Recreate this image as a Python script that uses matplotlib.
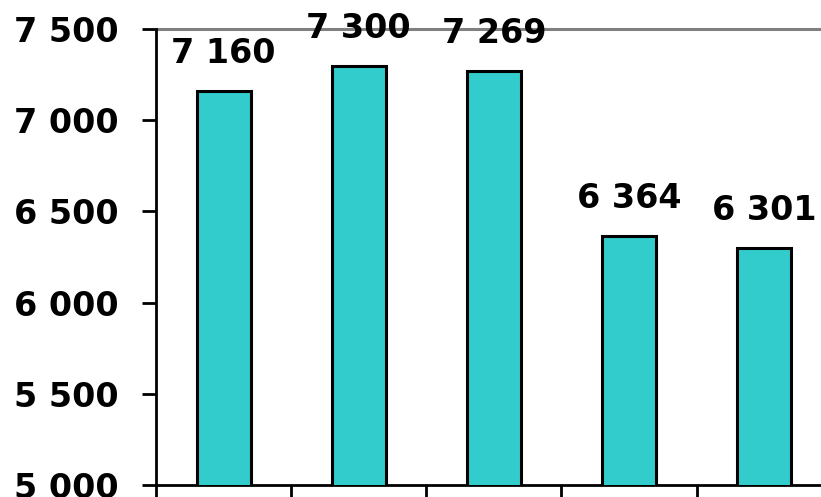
import numpy as np
import matplotlib.pyplot as plt

# 数据
categories = ["A", "B", "C", "D", "E"]
values = [7160, 7300, 7269, 6364, 6301]
yticks = [5000, 5500, 6000, 6500, 7000, 7500]


def fmt(v):
    return "{:,}".format(v).replace(",", " ")


plt.rcParams["font.family"] = "DejaVu Sans"
plt.rcParams["font.weight"] = "bold"

fig = plt.figure(figsize=(8.21, 4.97), dpi=100)
ax = fig.add_axes([0.190, 0.0241, 0.823, 0.9175])

x = np.arange(len(categories))
ax.bar(x, values, width=0.4, color="#33CCCC", edgecolor="black", linewidth=2.2, zorder=3)

# 数值标签
for xi, v in zip(x, values):
    ax.annotate(fmt(v), (xi, v), xytext=(0, 20), textcoords="offset points",
                ha="center", va="baseline", fontsize=24, fontweight="bold")

ax.set_ylim(5000, 7500)
ax.set_xlim(-0.5, len(categories) - 0.5)
ax.axhline(7500, color="#808080", linewidth=2.2, zorder=2, clip_on=False)

ax.set_yticks(yticks)
ax.set_yticklabels([fmt(t) for t in yticks], fontsize=24, fontweight="bold")
ax.tick_params(axis="y", length=10, width=2, pad=17)

ax.set_xticks(x)
ax.set_xticklabels(["" for _ in categories])
ax.tick_params(axis="x", which="major", length=0)
ax.set_xticks(np.arange(-0.5, len(categories) + 0.5), minor=True)
ax.tick_params(axis="x", which="minor", length=10, width=2, direction="out")

for s in ["top", "right"]:
    ax.spines[s].set_visible(False)
for s in ["left", "bottom"]:
    ax.spines[s].set_linewidth(2)
    ax.spines[s].set_color("black")

plt.savefig("out.png", dpi=100)
